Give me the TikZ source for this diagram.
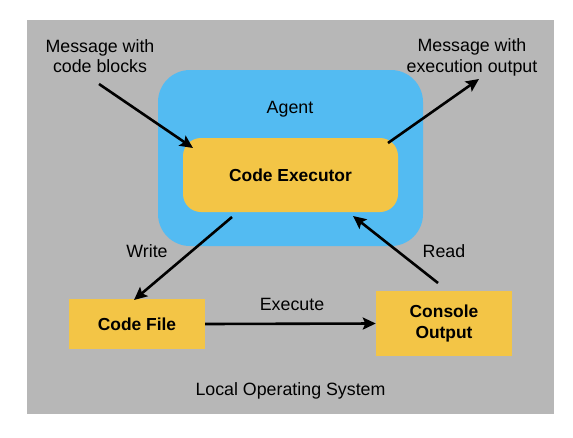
\documentclass[tikz,border=0pt]{standalone}
\usepackage{fontspec}
\setmainfont{Liberation Sans}
\usetikzlibrary{arrows.meta}
\definecolor{osgray}{RGB}{183,183,183}
\definecolor{agentblue}{RGB}{83,187,242}
\definecolor{boxyellow}{RGB}{243,197,70}
\begin{document}
\begin{tikzpicture}[x=1pt,y=-1pt,
  lbl/.style={font=\fontsize{17.8}{20.5}\selectfont, align=center, inner sep=0pt},
  boxlbl/.style={font=\fontsize{17.4}{20.8}\selectfont\bfseries, align=center, inner sep=0pt},
  conn/.style={line width=2.6pt, -{Stealth[length=13pt,width=12pt,inset=2.5pt]}},
  ybox/.style={fill=boxyellow, boxlbl},
]
\useasboundingbox (0,0) rectangle (573,437);
\node[fill=osgray, minimum width=527pt, minimum height=394pt, inner sep=0pt] (os) at (290.5,217) {};
\node[fill=agentblue, rounded corners=32pt, minimum width=265pt, minimum height=176pt, inner sep=0pt] (agent) at (290.5,158) {};
\node[ybox, rounded corners=18pt, minimum width=215pt, minimum height=74pt] (exec) at (290.5,175) {Code Executor};
\node[ybox, minimum width=136pt, minimum height=50pt] (codefile) at (137,324) {Code File};
\node[ybox, minimum width=136pt, minimum height=65pt] (console) at (444,323.5) {Console\\Output};

\node[lbl] (msgin) at (100,56) {Message with\\code blocks};
\node[lbl] (msgout) at (472,57.6) {Message with\\execution output};
\node[lbl, anchor=base] (agentlbl) at (290,113) {Agent};
\node[lbl, anchor=base] (writelbl) at (147,257) {Write};
\node[lbl, anchor=base] (readlbl) at (444,257) {Read};
\node[lbl, anchor=base] (execlbl) at (292,310) {Execute};
\node[lbl, anchor=base] (oslbl) at (290.5,395) {Local Operating System};

\coordinate (inStart) at (99,84);
\coordinate (inEnd) at (193,148);
\coordinate (outStart) at (388,143);
\coordinate (outEnd) at (479,79);
\coordinate (writeStart) at (232,217);
\coordinate (writeEnd) at (134,300);
\coordinate (readStart) at (438,283);
\coordinate (readEnd) at (353,216);

\draw[conn] (inStart) -- (inEnd);
\draw[conn] (outStart) -- (outEnd);
\draw[conn] (writeStart) -- (writeEnd);
\draw[conn] (readStart) -- (readEnd);
\draw[conn] (codefile.east) -- (console.west);
\end{tikzpicture}
\end{document}
